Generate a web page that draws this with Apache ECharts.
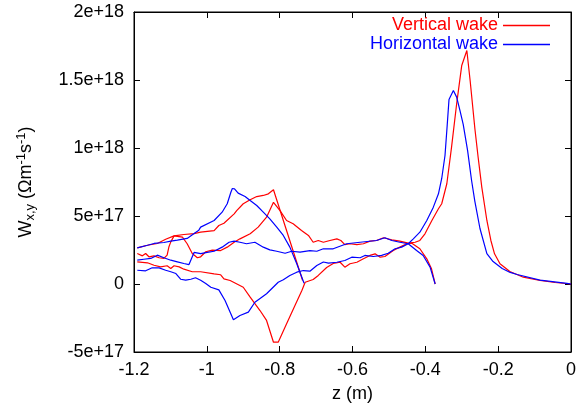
<!DOCTYPE html>
<html><head><meta charset="utf-8">
<script src="https://cdn.jsdelivr.net/npm/echarts@6/dist/echarts.min.js"></script>
<style>html,body{margin:0;padding:0;background:#fff}#c{width:583px;height:413px}</style>
</head><body><div id="c"></div>
<script>
// ---- data: [z (m), W (Ohm m^-1 s^-1)] ----
const redUpper = [[-1.191,2.66e17],[-1.163,2.85e17],[-1.136,2.98e17],[-1.113,3.29e17],[-1.090,3.54e17],[-1.063,3.64e17],[-1.035,3.71e17],[-1.017,3.81e17],[-0.980,3.93e17],[-0.967,4.30e17],[-0.953,4.47e17],[-0.925,5.16e17],[-0.918,5.40e17],[-0.900,5.90e17],[-0.881,6.19e17],[-0.863,6.43e17],[-0.845,6.51e17],[-0.831,6.63e17],[-0.817,6.93e17],[-0.737,0.26e17]];
const redZigzag = [[-1.191,2.24e17],[-1.177,2.07e17],[-1.168,2.24e17],[-1.159,2.00e17],[-1.145,2.07e17],[-1.131,1.93e17],[-1.118,1.88e17],[-1.109,2.12e17],[-1.104,2.74e17],[-1.099,3.10e17],[-1.090,3.54e17]];
const redMain = [[-1.090,3.54e17],[-1.067,3.44e17],[-1.054,2.96e17],[-1.040,2.24e17],[-1.026,1.93e17],[-1.017,2.00e17],[-1.003,2.37e17],[-0.985,2.49e17],[-0.962,2.46e17],[-0.944,2.71e17],[-0.925,3.07e17],[-0.909,3.32e17],[-0.881,3.69e17],[-0.859,4.18e17],[-0.836,4.91e17],[-0.817,6.01e17],[-0.799,5.40e17],[-0.781,4.67e17],[-0.763,4.43e17],[-0.740,3.93e17],[-0.721,3.57e17],[-0.708,3.07e17],[-0.694,3.20e17],[-0.680,3.07e17],[-0.662,3.20e17],[-0.643,3.32e17],[-0.632,3.20e17],[-0.621,2.90e17],[-0.607,2.96e17],[-0.588,2.90e17],[-0.570,2.96e17],[-0.552,3.15e17],[-0.534,3.20e17],[-0.515,3.40e17],[-0.492,3.25e17],[-0.470,3.15e17],[-0.447,3.00e17],[-0.428,3.07e17],[-0.415,3.20e17],[-0.401,3.69e17],[-0.382,4.67e17],[-0.364,5.53e17],[-0.355,5.90e17],[-0.341,7.37e17],[-0.328,10.06e17],[-0.314,13.25e17],[-0.300,16.07e17],[-0.286,17.17e17],[-0.277,14.96e17],[-0.264,11.43e17],[-0.255,9.32e17],[-0.245,7.12e17],[-0.231,4.67e17],[-0.220,3.20e17],[-0.210,2.22e17],[-0.195,1.49e17],[-0.168,0.92e17],[-0.131,0.50e17],[-0.085,0.26e17],[-0.044,0.11e17],[0,0]];
const redLower = [[-1.191,1.63e17],[-1.163,1.56e17],[-1.145,1.38e17],[-1.127,1.26e17],[-1.109,1.34e17],[-1.099,1.14e17],[-1.090,1.34e17],[-1.076,1.26e17],[-1.063,1.09e17],[-1.040,0.90e17],[-1.017,0.90e17],[-0.980,0.75e17],[-0.962,0.68e17],[-0.953,0.38e17],[-0.936,0.26e17],[-0.900,-0.24e17],[-0.881,-0.97e17],[-0.854,-1.95e17],[-0.836,-2.68e17],[-0.817,-4.28e17],[-0.804,-4.28e17],[-0.781,-2.93e17],[-0.758,-1.58e17],[-0.739,-0.48e17],[-0.730,0.13e17],[-0.708,0.33e17],[-0.694,0.63e17],[-0.671,1.21e17],[-0.653,1.51e17],[-0.634,1.60e17],[-0.621,1.24e17],[-0.607,1.49e17],[-0.588,1.60e17],[-0.570,1.85e17],[-0.552,2.10e17],[-0.538,2.22e17],[-0.524,1.97e17],[-0.511,2.02e17],[-0.488,2.46e17],[-0.470,2.71e17],[-0.451,2.96e17],[-0.437,3.00e17],[-0.415,2.59e17],[-0.396,1.85e17],[-0.383,1.12e17],[-0.373,0]];
const blueUpper = [[-1.191,2.66e17],[-1.163,2.85e17],[-1.145,2.98e17],[-1.118,3.05e17],[-1.099,3.15e17],[-1.081,3.22e17],[-1.054,3.35e17],[-1.035,3.71e17],[-1.022,3.96e17],[-1.017,4.18e17],[-0.980,4.67e17],[-0.958,5.28e17],[-0.944,5.90e17],[-0.934,6.75e17],[-0.930,7.02e17],[-0.924,7.00e17],[-0.914,6.68e17],[-0.895,6.43e17],[-0.881,6.14e17],[-0.863,5.77e17],[-0.845,5.28e17],[-0.827,4.79e17],[-0.808,4.18e17],[-0.790,3.57e17],[-0.772,2.71e17],[-0.753,1.49e17],[-0.733,0.06e17]];
const blueMain = [[-1.191,1.75e17],[-1.173,1.82e17],[-1.154,1.88e17],[-1.136,2.12e17],[-1.118,1.93e17],[-1.099,1.75e17],[-1.081,1.63e17],[-1.063,1.51e17],[-1.049,1.43e17],[-1.040,2.00e17],[-1.035,2.32e17],[-1.017,2.24e17],[-0.999,2.32e17],[-0.980,2.41e17],[-0.958,2.71e17],[-0.939,3.07e17],[-0.925,3.15e17],[-0.909,3.07e17],[-0.891,2.96e17],[-0.868,3.07e17],[-0.845,2.71e17],[-0.827,2.51e17],[-0.808,2.41e17],[-0.785,2.26e17],[-0.767,2.41e17],[-0.744,2.34e17],[-0.717,2.46e17],[-0.698,2.41e17],[-0.680,2.59e17],[-0.653,2.59e17],[-0.616,2.96e17],[-0.579,3.07e17],[-0.534,3.20e17],[-0.511,3.40e17],[-0.492,3.20e17],[-0.470,3.07e17],[-0.447,2.96e17],[-0.433,3.32e17],[-0.415,3.81e17],[-0.396,4.67e17],[-0.378,5.65e17],[-0.364,6.63e17],[-0.355,7.76e17],[-0.346,9.45e17],[-0.340,11.65e17],[-0.335,13.57e17],[-0.323,14.23e17],[-0.314,13.74e17],[-0.305,12.76e17],[-0.296,11.73e17],[-0.284,9.82e17],[-0.273,7.61e17],[-0.264,6.07e17],[-0.250,4.08e17],[-0.231,2.24e17],[-0.214,1.65e17],[-0.189,1.14e17],[-0.167,0.85e17],[-0.148,0.70e17],[-0.085,0.29e17],[-0.011,0.04e17],[0,0]];
const blueLower = [[-1.191,1.01e17],[-1.168,0.97e17],[-1.150,1.19e17],[-1.131,1.19e17],[-1.113,1.01e17],[-1.099,0.90e17],[-1.085,0.77e17],[-1.072,0.35e17],[-1.058,0.28e17],[-1.044,0.35e17],[-1.031,0.46e17],[-1.017,0.28e17],[-1.003,0.04e17],[-0.989,-0.24e17],[-0.967,-0.43e17],[-0.950,-1.21e17],[-0.927,-2.63e17],[-0.909,-2.32e17],[-0.886,-2.07e17],[-0.868,-1.34e17],[-0.836,-0.72e17],[-0.804,0.13e17],[-0.790,0.31e17],[-0.772,0.63e17],[-0.753,0.87e17],[-0.735,0.99e17],[-0.717,0.94e17],[-0.698,1.36e17],[-0.680,1.62e17],[-0.666,1.53e17],[-0.643,1.60e17],[-0.621,1.73e17],[-0.602,1.97e17],[-0.579,1.93e17],[-0.566,2.10e17],[-0.543,2.02e17],[-0.520,2.10e17],[-0.502,2.26e17],[-0.483,2.59e17],[-0.465,2.71e17],[-0.447,2.96e17],[-0.424,2.46e17],[-0.406,2.10e17],[-0.387,1.24e17],[-0.373,0]];

const seriesNames = ['Vertical wake', 'Horizontal wake'];
const xRange = [-1.2, 0, 0.2];
const yRange = [-5e17, 2e18, 5e17];

const FONT = "'Liberation Sans', Arial, Helvetica, sans-serif";
const RED = '#ff0000', BLUE = '#0000ff';

function seg(name, color, data) {
  return {
    type: 'line', name: name, data: data, symbol: 'none', showSymbol: false,
    lineStyle: { color: color, width: 1.2 }, itemStyle: { color: color },
    xAxisIndex: 0, yAxisIndex: 0, animation: false, silent: true, z: 3
  };
}

const chart = echarts.init(document.getElementById('c'), null, { renderer: 'canvas' });
const tickCommon = { inside: true, length: 6, lineStyle: { color: '#000', width: 1 } };
const lineCommon = { show: true, onZero: false, lineStyle: { color: '#000', width: 1 } };
chart.setOption({
  animation: false,
  backgroundColor: '#fff',
  grid: { left: 134, right: 12, top: 12, bottom: 61, show: true, borderColor: '#000', borderWidth: 1, backgroundColor: 'transparent' },
  legend: {
    data: [
      { name: seriesNames[0], icon: 'rect', itemStyle: { color: RED, borderWidth: 0 }, textStyle: { color: RED } },
      { name: seriesNames[1], icon: 'rect', itemStyle: { color: BLUE, borderWidth: 0 }, textStyle: { color: BLUE } }
    ],
    orient: 'vertical', right: 33, top: 16, align: 'right',
    itemWidth: 47, itemHeight: 1.5, itemGap: 0, padding: 0,
    textStyle: { fontFamily: FONT, fontSize: 18, lineHeight: 19 },
    selectedMode: false
  },
  xAxis: [
    {
      type: 'value', min: xRange[0], max: xRange[1], interval: xRange[2], position: 'bottom',
      axisLine: lineCommon, axisTick: tickCommon, splitLine: { show: false },
      axisLabel: { color: '#000', fontFamily: FONT, fontSize: 18, margin: 9,
        formatter: v => String(Number(v.toFixed(1))) },
      name: 'z (m)', nameLocation: 'middle', nameGap: 33,
      nameTextStyle: { color: '#000', fontFamily: FONT, fontSize: 18 }
    },
    {
      type: 'value', min: xRange[0], max: xRange[1], interval: xRange[2], position: 'top',
      axisLine: lineCommon, axisTick: tickCommon, splitLine: { show: false }, axisLabel: { show: false }
    }
  ],
  yAxis: [
    {
      type: 'value', min: yRange[0], max: yRange[1], interval: yRange[2], position: 'left',
      axisLine: lineCommon, axisTick: tickCommon, splitLine: { show: false },
      axisLabel: { color: '#000', fontFamily: FONT, fontSize: 18, margin: 10,
        formatter: v => Math.abs(v) < 1 ? '0' : Number(v.toPrecision(3)).toExponential() },
      name: '{a|W}{b|x,y}{a| (Ωm}{c|-1}{a|s}{c|-1}{a|)}',
      nameLocation: 'middle', nameRotate: 90, nameGap: 97,
      nameTextStyle: {
        color: '#000', fontFamily: FONT, fontSize: 18,
        rich: {
          a: { fontFamily: FONT, fontSize: 18, lineHeight: 22, verticalAlign: 'middle', color: '#000' },
          b: { fontFamily: FONT, fontSize: 13, lineHeight: 13, verticalAlign: 'bottom', color: '#000' },
          c: { fontFamily: FONT, fontSize: 13, lineHeight: 13, verticalAlign: 'top', color: '#000' }
        }
      }
    },
    {
      type: 'value', min: yRange[0], max: yRange[1], interval: yRange[2], position: 'right',
      axisLine: lineCommon, axisTick: tickCommon, splitLine: { show: false }, axisLabel: { show: false }
    }
  ],
  series: [
    seg(seriesNames[0], RED, redUpper),
    seg(seriesNames[0], RED, redZigzag),
    seg(seriesNames[0], RED, redMain),
    seg(seriesNames[0], RED, redLower),
    seg(seriesNames[1], BLUE, blueUpper),
    seg(seriesNames[1], BLUE, blueMain),
    seg(seriesNames[1], BLUE, blueLower)
  ]
});
</script>
</body></html>
